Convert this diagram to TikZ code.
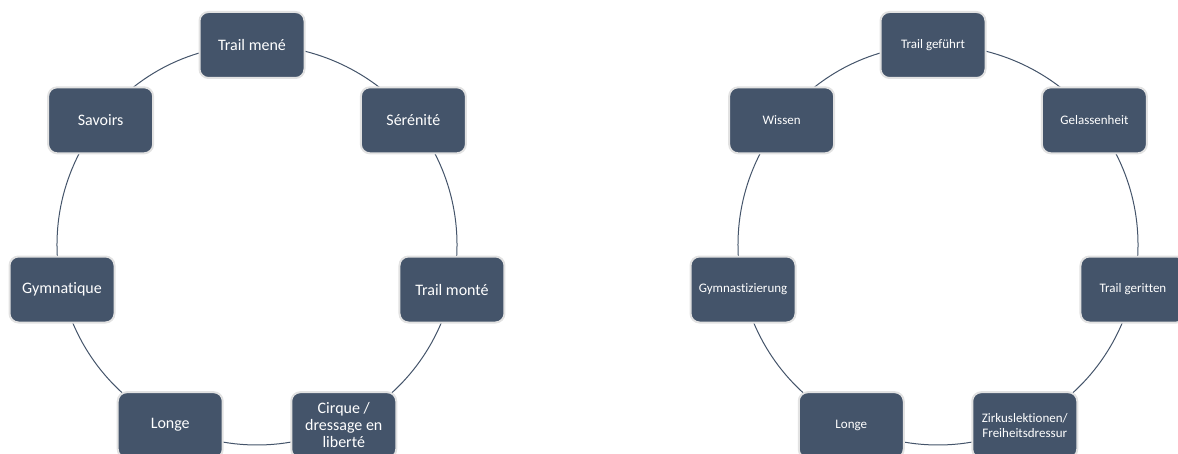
\documentclass[tikz,border=0pt]{standalone}
\usepackage{fontspec}
\setmainfont{Carlito}[Ligatures=NoCommon]
\definecolor{cSlate}{HTML}{44546A}
\definecolor{cRim}{HTML}{E2E2E2}
\usetikzlibrary{backgrounds}

\begin{document}
\begin{tikzpicture}[x=1pt, y=1pt,
	box/.style={draw=cRim, line width=2pt, fill=cSlate, rounded corners=9pt, text=white, align=center, minimum width=105pt, minimum height=66pt, inner sep=2pt},
	big/.style={font=\fontsize{16}{17}\selectfont},
	small/.style={font=\fontsize{13}{15}\selectfont},
	link/.style={draw=cSlate, line width=1pt}]
			\useasboundingbox (0,0) rectangle (1178,-454);
			% left cycle
			\begin{scope}[shift={(257,-245)}]
			\node [box, big] (fr1) at (-5,200) {Trail mené};
			\node [box, big] (fr2) at (38.57:200) {Sérénité};
			\node [box, big] (fr3) at (-12.86:200) {Trail monté};
			\node [box, big] (fr4) at (-64.29:200) {Cirque /\\dressage en\\liberté};
			\node [box, big] (fr5) at (-115.71:200) {Longe};
			\node [box, big] (fr6) at (-167.14:200) {Gymnatique};
			\node [box, big] (fr7) at (141.43:200) {Savoirs};
			\end{scope}
			% right cycle
			\begin{scope}[shift={(938,-245)}]
			\node [box, small] (de1) at (-5,200) {Trail geführt};
			\node [box, small] (de2) at (38.57:200) {Gelassenheit};
			\node [box, small] (de3) at (-12.86:200) {Trail geritten};
			\node [box, small] (de4) at (-64.29:200) {Zirkuslektionen/\\Freiheitsdressur};
			\node [box, small] (de5) at (-115.71:200) {Longe};
			\node [box, small] (de6) at (-167.14:200) {Gymnastizierung};
			\node [box, small] (de7) at (141.43:200) {Wissen};
			\end{scope}
			\begin{scope}[on background layer]
			\foreach \a/\b in {1/2,2/3,3/4,4/5,5/6,6/7,7/1} {
				\draw [link] (fr\a.center) to[bend left=25.7, looseness=0.9] (fr\b.center);
				\draw [link] (de\a.center) to[bend left=25.7, looseness=0.9] (de\b.center);
			}
			\end{scope}
		\end{tikzpicture}
\end{document}
